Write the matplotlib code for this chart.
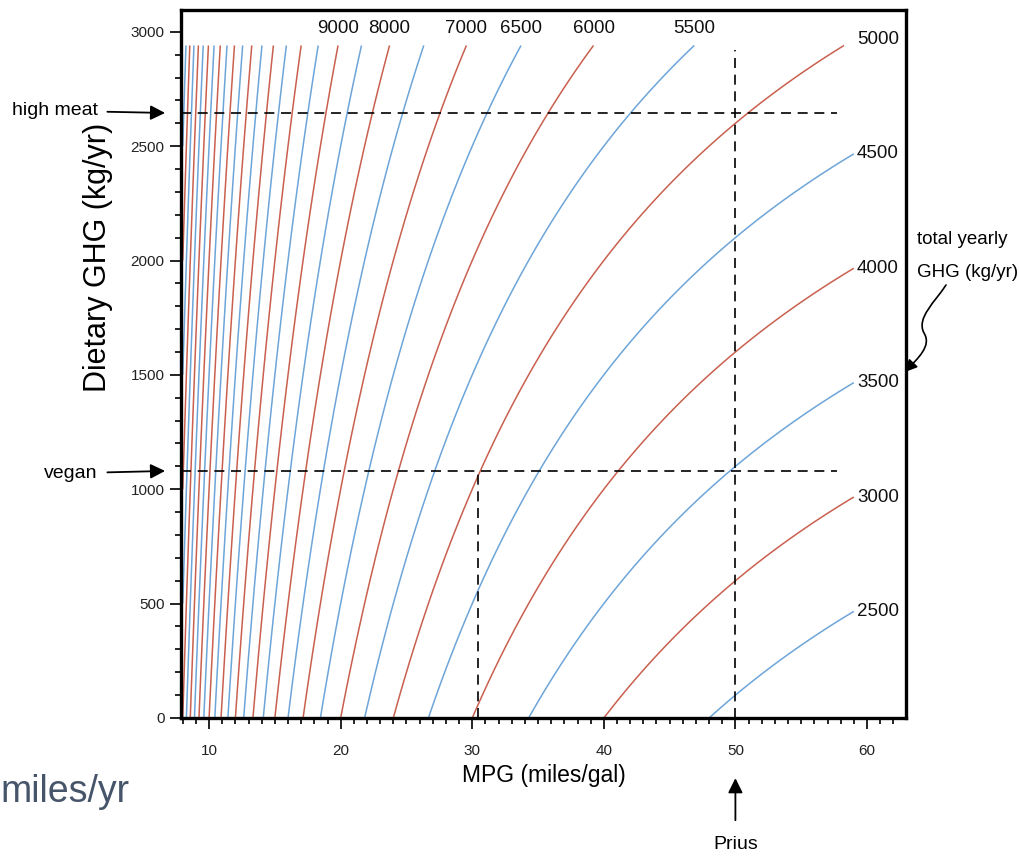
import numpy as np
import matplotlib
matplotlib.use("Agg")
import matplotlib.pyplot as plt
from matplotlib.patches import FancyArrowPatch
from matplotlib.path import Path
import matplotlib.transforms as mtransforms

# ---------------- data ----------------
# total yearly GHG (kg/yr) contour levels
total_levels = [2500, 3000, 3500, 4000, 4500, 5000, 5500, 6000, 6500, 7000,
                7500, 8000, 8500, 9000, 9500, 10000, 10500, 11000, 11500,
                12000, 12500, 13000, 13500, 14000, 14500, 15000, 15500,
                16000, 16500, 17000, 17500]
miles_per_year = 12000          # yearly driving distance
kg_ghg_per_gallon = 10          # kg GHG per gallon burned
mpg_span = [8, 59]              # MPG range of the computed field
diet_span = [0, 2940]           # dietary GHG range of the computed field
top_labeled = [9000, 8000, 7000, 6500, 6000, 5500]
right_labeled = [5000, 4500, 4000, 3500, 3000, 2500]
diet_high_meat = 2645
diet_vegan = 1080
prius_mpg = 50
vegan_5000_mpg = 30.4
x_ticks = [10, 20, 30, 40, 50, 60]
y_ticks = [0, 500, 1000, 1500, 2000, 2500, 3000]

FONT = "Liberation Sans"
BLUE = "#6da5d9"
RED = "#c9604f"

fig = plt.figure(figsize=(10.2, 8.57), dpi=100)
ax = fig.add_axes([0.1775, 0.1622, 0.7108, 0.8261])

drive_const = miles_per_year * kg_ghg_per_gallon
mpg = np.linspace(mpg_span[0], mpg_span[1], 900)
diet = np.linspace(diet_span[0], diet_span[1], 500)
M, D = np.meshgrid(mpg, diet)
Z = D + drive_const / M
line_colors = [RED if lv % 1000 == 0 else BLUE for lv in total_levels]
ax.contour(M, D, Z, levels=total_levels, colors=line_colors, linewidths=1.1)

xlim = (7.87, 62.97)
ylim = (0, 3095)
ax.set_xlim(*xlim)
ax.set_ylim(*ylim)

# dashed reference lines
dash = dict(color="black", lw=1.2, dashes=(6, 4))
ax.plot([xlim[0], 57.7], [diet_high_meat, diet_high_meat], **dash)
ax.plot([xlim[0], 57.7], [diet_vegan, diet_vegan], **dash)
ax.plot([prius_mpg, prius_mpg], [0, 2920], **dash)
ax.plot([vegan_5000_mpg, vegan_5000_mpg], [0, diet_vegan], **dash)

# contour labels
for lv in top_labeled:
    ax.text(drive_const / (lv - diet_span[1]), 3016, str(lv), ha="center",
            va="center", fontsize=13.5, family=FONT, color="#111111")
for lv in right_labeled:
    ax.text(59.25, lv - drive_const / mpg_span[1], str(lv), ha="left",
            va="center", fontsize=13.5, family=FONT, color="#111111")

# axes styling
for s in ax.spines.values():
    s.set_linewidth(2.4)
ax.set_xticks(x_ticks)
ax.set_yticks(y_ticks)
ax.set_xticks(np.arange(8, 63, 1), minor=True)
ax.set_yticks(np.arange(0, 3100, 100), minor=True)
ax.tick_params(which="major", length=8, width=1.4, direction="out",
               labelsize=11, colors="#222222")
ax.tick_params(axis="x", which="major", pad=11)
ax.tick_params(axis="y", which="major", pad=4)
ax.tick_params(which="minor", length=4, width=1.2, direction="out")
for lab in ax.get_xticklabels() + ax.get_yticklabels():
    lab.set_family(FONT)

ax.set_xlabel("MPG (miles/gal)", fontsize=16.5, family=FONT, labelpad=4)
ax.set_ylabel("Dietary GHG (kg/yr)", fontsize=22, family=FONT)
ax.yaxis.set_label_coords(-0.094, 0.65)

# side annotations
blend = mtransforms.blended_transform_factory(ax.transAxes, ax.transData)
arrow = dict(arrowstyle="-|>", color="black", lw=1.3, mutation_scale=22,
             shrinkA=5, shrinkB=0)
ax.annotate("high meat", xy=(-0.022, diet_high_meat), xycoords=blend,
            xytext=(-0.115, diet_high_meat + 10), textcoords=blend,
            ha="right", va="center", fontsize=14, family=FONT,
            arrowprops=arrow, annotation_clip=False)
ax.annotate("vegan", xy=(-0.022, diet_vegan), xycoords=blend,
            xytext=(-0.115, diet_vegan - 10), textcoords=blend,
            ha="right", va="center", fontsize=14, family=FONT,
            arrowprops=arrow, annotation_clip=False)
blend2 = mtransforms.blended_transform_factory(ax.transData, ax.transAxes)
ax.annotate("Prius", xy=(prius_mpg, -0.085), xycoords=blend2,
            xytext=(prius_mpg, -0.178), textcoords=blend2,
            ha="center", va="center", fontsize=14, family=FONT,
            arrowprops=dict(arrowstyle="-|>", color="black", lw=1.3,
                            mutation_scale=22, shrinkA=9, shrinkB=0),
            annotation_clip=False)

# total yearly GHG note with wavy arrow
W, H = 1020, 857
fig.text(917 / W, 1 - 240 / H, "total yearly", fontsize=13.5, family=FONT,
         ha="left", va="center")
fig.text(917 / W, 1 - 272 / H, "GHG (kg/yr)", fontsize=13.5, family=FONT,
         ha="left", va="center")
pts = [(946, 285), (935, 302), (916, 318), (924, 333),
       (932, 346), (918, 358), (905, 372)]
verts = [(x / W, 1 - y / H) for x, y in pts]
codes = [Path.MOVETO, Path.CURVE4, Path.CURVE4, Path.CURVE4,
         Path.CURVE4, Path.CURVE4, Path.CURVE4]
wavy = FancyArrowPatch(path=Path(verts, codes), arrowstyle="-|>",
                       mutation_scale=18, color="black", lw=1.2,
                       transform=fig.transFigure)
fig.patches.append(wavy)

# slide residue text
fig.text(0.0, 1 - 792 / H, "miles/yr", fontsize=27, family=FONT,
         color="#46556a", ha="left", va="center")

fig.savefig("out.png", dpi=100)
